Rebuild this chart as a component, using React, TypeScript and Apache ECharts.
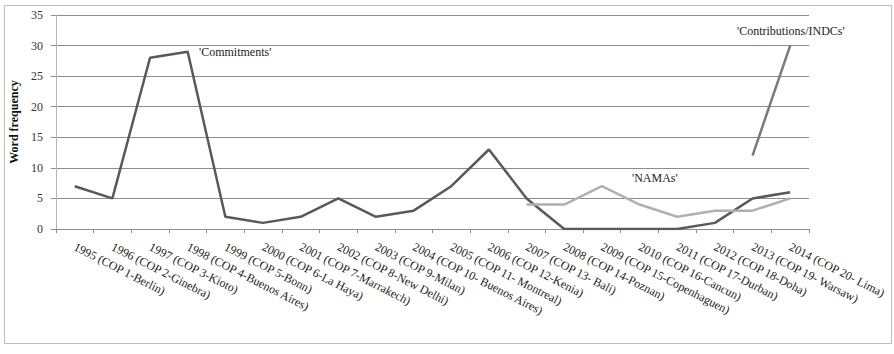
import React, { useEffect, useRef } from "react";
import * as echarts from "echarts";

const categories = [
  "1995 (COP 1-Berlin)",
  "1996 (COP 2-Ginebra)",
  "1997 (COP 3-Kioto)",
  "1998 (COP 4-Buenos Aires)",
  "1999 (COP 5-Bonn)",
  "2000 (COP 6-La Haya)",
  "2001 (COP 7-Marrakech)",
  "2002 (COP 8-New Delhi)",
  "2003 (COP 9-Milan)",
  "2004 (COP 10- Buenos Aires)",
  "2005 (COP 11- Montreal)",
  "2006 (COP 12-Kenia)",
  "2007 (COP 13- Bali)",
  "2008 (COP 14-Poznan)",
  "2009 (COP 15-Copenhaguen)",
  "2010 (COP 16-Cancun)",
  "2011 (COP 17-Durban)",
  "2012 (COP 18-Doha)",
  "2013 (COP 19- Warsaw)",
  "2014 (COP 20- Lima)",
];

const commitments = [7, 5, 28, 29, 2, 1, 2, 5, 2, 3, 7, 13, 5, 0, 0, 0, 0, 1, 5, 6];
const namas = [null, null, null, null, null, null, null, null, null, null, null, null, 4, 4, 7, 4, 2, 3, 3, 5];
const contributions = [null, null, null, null, null, null, null, null, null, null, null, null, null, null, null, null, null, null, 12, 30];

const yTicks = { min: 0, max: 35, interval: 5 };

const FONT = "Liberation Serif";

export default function App() {
  const ref = useRef<HTMLDivElement>(null);
  useEffect(() => {
    if (!ref.current) return;
    const chart = echarts.init(ref.current, null, { renderer: "svg" });
    chart.setOption({
      animation: false,
      textStyle: { fontFamily: FONT },
      grid: { left: 48, right: 85, top: 15, bottom: 125, containLabel: false },
      graphic: [
        {
          type: "rect",
          shape: { x: 4.5, y: 5.5, width: 887, height: 338 },
          style: { fill: "none", stroke: "#bdbdbd", lineWidth: 1 },
          silent: true,
        },
        {
          type: "text",
          x: 199,
          y: 46,
          style: { text: "'Commitments'", fontFamily: FONT, fontSize: 12, fill: "#222" },
        },
        {
          type: "text",
          x: 632,
          y: 172,
          style: { text: "'NAMAs'", fontFamily: FONT, fontSize: 12, fill: "#222" },
        },
        {
          type: "text",
          x: 737,
          y: 25,
          style: { text: "'Contributions/INDCs'", fontFamily: FONT, fontSize: 12, fill: "#222" },
        },
      ],
      xAxis: {
        type: "category",
        data: categories,
        boundaryGap: true,
        axisLine: { lineStyle: { color: "#8c8c8c", width: 1 } },
        axisTick: { show: true, length: 4, lineStyle: { color: "#8c8c8c" } },
        axisLabel: {
          rotate: -27,
          interval: 0,
          margin: 17,
          fontSize: 12,
          fontFamily: FONT,
          color: "#222",
        },
      },
      yAxis: {
        type: "value",
        min: yTicks.min,
        max: yTicks.max,
        interval: yTicks.interval,
        name: "Word frequency",
        nameLocation: "middle",
        nameGap: 30,
        nameTextStyle: { fontSize: 12, fontWeight: "bold", fontFamily: FONT, color: "#111" },
        axisLine: { show: true, lineStyle: { color: "#b5b5b5" } },
        axisTick: { show: true, length: 5, lineStyle: { color: "#8c8c8c" } },
        axisLabel: { fontSize: 12, fontFamily: FONT, color: "#333", margin: 13 },
        splitLine: { lineStyle: { color: "#8c8c8c", width: 1 } },
      },
      series: [
        {
          name: "Commitments",
          type: "line",
          data: commitments,
          symbol: "none",
          lineStyle: { color: "#595959", width: 2.5 },
        },
        {
          name: "NAMAs",
          type: "line",
          data: namas,
          symbol: "none",
          lineStyle: { color: "#b0b0b0", width: 2.5 },
        },
        {
          name: "Contributions/INDCs",
          type: "line",
          data: contributions,
          symbol: "none",
          lineStyle: { color: "#7a7a7a", width: 2.5 },
        },
      ],
    });
    return () => chart.dispose();
  }, []);
  return (
    <div
      ref={ref}
      style={{ position: "absolute", left: 0, top: 0, width: 894, height: 354, background: "#fff" }}
    />
  );
}
